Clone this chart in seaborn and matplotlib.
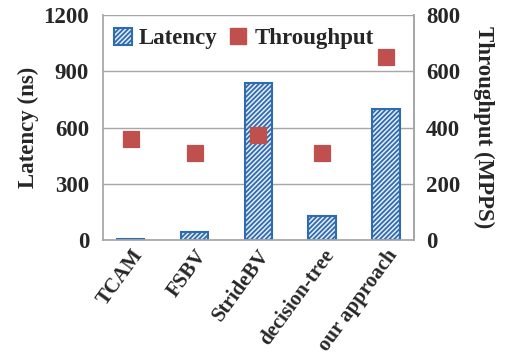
import matplotlib
matplotlib.use("Agg")
import matplotlib.pyplot as plt
import seaborn as sns
import pandas as pd
from matplotlib.patches import Patch
from matplotlib.lines import Line2D

categories = ["TCAM", "FSBV", "StrideBV", "decision-tree", "our approach"]
latency = [4, 45, 840, 130, 700]
throughput = [360, 310, 375, 310, 650]
left_ticks = [0, 300, 600, 900, 1200]
right_ticks = [0, 200, 400, 600, 800]

sns.set_theme(style="white")
plt.rcParams["font.family"] = ["Liberation Serif", "DejaVu Serif"]
plt.rcParams["font.weight"] = "bold"
plt.rcParams["hatch.linewidth"] = 1.3

df = pd.DataFrame({"cat": categories, "lat": latency, "thr": throughput})

fig = plt.figure(figsize=(5.07, 3.59), dpi=100)
ax = fig.add_axes([0.203, 0.331, 0.613, 0.627])

sns.barplot(data=df, x="cat", y="lat", ax=ax, width=0.43,
            color="#e3eef9", edgecolor="#2f6bb0", linewidth=1.5, hatch="///////")
for p in ax.patches:
    p.set_hatch("///////")
    p.set_edgecolor("#2f6bb0")

ax.set_ylim(0, 1200)
ax.set_yticks(left_ticks)
ax.yaxis.grid(True, color="#a6a6a6", linewidth=1)
ax.set_axisbelow(True)
ax.spines["top"].set_visible(False)
for s in ["left", "right", "bottom"]:
    ax.spines[s].set_color("#a6a6a6")
ax.set_xlabel("")
ax.set_ylabel("Latency (ns)", fontsize=16.5, fontweight="bold", labelpad=3)
ax.tick_params(axis="y", labelsize=16.5, length=0, pad=10)
ax.tick_params(axis="x", labelsize=15, length=0, pad=4)
for lbl in ax.get_yticklabels():
    lbl.set_fontweight("bold")
ax.set_xticks(range(len(categories)))
ax.set_xticklabels(categories, rotation=54, ha="right", rotation_mode="anchor",
                   fontweight="bold")

ax2 = ax.twinx()
sns.scatterplot(data=df, x="cat", y="thr", ax=ax2, marker="s", s=120,
                color="#c0504d", edgecolor="#c0504d", zorder=5)
ax2.set_ylim(0, 800)
ax2.set_yticks(right_ticks)
ax2.tick_params(axis="y", labelsize=16.5, length=0, pad=9)
for lbl in ax2.get_yticklabels():
    lbl.set_fontweight("bold")
ax2.set_ylabel("Throughput (MPPS)", fontsize=16.5, fontweight="bold",
               rotation=270, labelpad=24)
for s in ["top", "left", "bottom"]:
    ax2.spines[s].set_visible(False)
ax2.spines["right"].set_color("#a6a6a6")
ax2.set_xlabel("")

handles = [Patch(facecolor="#e3eef9", edgecolor="#2f6bb0", hatch="///////", linewidth=1.5),
           Line2D([], [], marker="s", linestyle="", markersize=11,
                  markerfacecolor="#c0504d", markeredgecolor="#c0504d")]
leg = ax.legend(handles, ["Latency", "Throughput"], loc="upper left",
                bbox_to_anchor=(-0.01, 1.005), ncol=2, frameon=False,
                prop={"size": 16.5, "weight": "bold"}, handlelength=0.8,
                handleheight=0.8, handletextpad=0.3, columnspacing=0.5,
                borderaxespad=0.2)

fig.savefig("out.png", dpi=100)
